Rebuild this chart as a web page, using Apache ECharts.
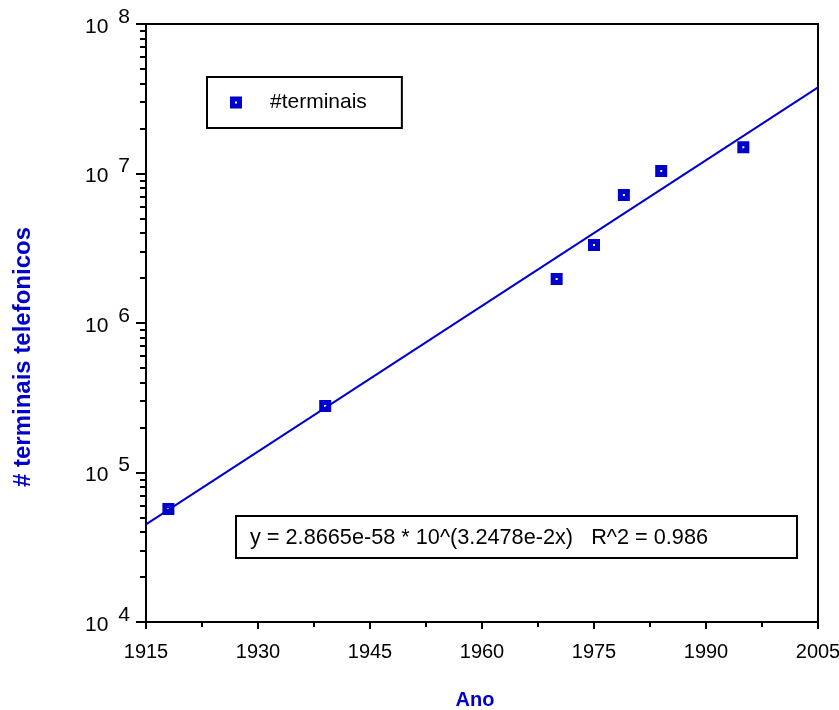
<!DOCTYPE html>
<html>
<head>
<meta charset="utf-8">
<script src="https://cdn.jsdelivr.net/npm/echarts@6/dist/echarts.min.js"></script>
<style>
  html, body { margin: 0; padding: 0; background: #fff; }
  #chart { width: 839px; height: 710px; }
</style>
</head>
<body>
<div id="chart"></div>
<script>
// dados
var anos = [1918, 1939, 1970, 1975, 1979, 1984, 1995];
var terminais = [57000, 279000, 1970000, 3330000, 7180000, 10400000, 15000000];

// reta de ajuste (extremos)
var anosAjuste = [1915, 2005];
var valoresAjuste = [44950, 37670000];

var minorY = [];
[1e4, 1e5, 1e6, 1e7].forEach(function (d) {
  for (var k = 2; k <= 9; k++) minorY.push(d * k);
});

var azul = '#0000cc';
var fonte = 'Liberation Sans, Arial, sans-serif';
var marcador = 'path://M0,0H12V12H0Z M5,5V7H7V5Z';

var chart = echarts.init(document.getElementById('chart'));
var option = {
  backgroundColor: '#fff',
  animation: false,
  textStyle: { fontFamily: fonte },
  grid: {
    left: 146, right: 21, top: 24, bottom: 88,
    outerBoundsMode: 'none',
    containLabel: false,
    show: true, borderColor: '#000', borderWidth: 2
  },
  legend: {
    data: ['#terminais'],
    left: 207, top: 77,
    padding: [15, 35, 15, 23],
    borderColor: '#000', borderWidth: 2,
    itemWidth: 12, itemHeight: 12,
    textStyle: { fontSize: 21, color: '#000', fontFamily: fonte, padding: [0, 0, 0, 23] }
  },
  xAxis: {
    type: 'value',
    min: 1915, max: 2005, interval: 15,
    name: 'Ano', nameLocation: 'middle', nameGap: 68,
    nameTextStyle: { color: azul, fontWeight: 'bold', fontSize: 20, fontFamily: fonte, padding: [0, 14, 0, 0] },
    axisLine: { lineStyle: { color: '#000', width: 2 } },
    axisTick: { inside: false, length: 7, lineStyle: { color: '#000', width: 2 } },
    minorTick: { show: true, splitNumber: 2, length: 5, lineStyle: { color: '#000', width: 2 } },
    splitLine: { show: false },
    axisLabel: {
      color: '#000', fontSize: 20, margin: 20, fontFamily: fonte,
      formatter: function (v) { return String(v); }
    }
  },
  yAxis: [{
    type: 'log', logBase: 10,
    min: 1e4, max: 1e8, interval: 1,
    name: '# terminais telefonicos', nameLocation: 'middle', nameGap: 111,
    nameTextStyle: { color: azul, fontWeight: 'bold', fontSize: 24, fontFamily: fonte, padding: [0, 68, 0, 0] },
    axisLine: { show: true, lineStyle: { color: '#000', width: 2 } },
    axisTick: { show: true, length: 10, lineStyle: { color: '#000', width: 2 } },
    splitLine: { show: false },
    axisLabel: {
      margin: 16,
      formatter: function (v) {
        return '{b|10}{e|' + Math.round(Math.log10(v)) + '}';
      },
      rich: {
        b: { fontSize: 21, color: '#000', fontFamily: fonte, padding: [6, 0, 0, 0] },
        e: { fontSize: 21, color: '#000', fontFamily: fonte, padding: [0, 0, 14, 10] }
      }
    }
  }, {
    type: 'log', logBase: 10,
    min: 1e4, max: 1e8,
    position: 'left',
    axisLine: { show: false },
    axisLabel: { show: false },
    splitLine: { show: false },
    axisTick: { show: true, length: 6, customValues: minorY, lineStyle: { color: '#000', width: 2 } }
  }],
  series: [{
    name: 'ajuste',
    type: 'line',
    data: anosAjuste.map(function (a, i) { return [a, valoresAjuste[i]]; }),
    showSymbol: false,
    lineStyle: { color: azul, width: 2 },
    z: 2
  }, {
    name: '#terminais',
    type: 'scatter',
    data: anos.map(function (a, i) { return [a, terminais[i]]; }),
    symbol: marcador,
    symbolSize: 12,
    itemStyle: { color: azul, opacity: 1 },
    z: 3
  }],
  graphic: [{
    type: 'rect',
    shape: { x: 236, y: 516, width: 561, height: 42 },
    style: { fill: '#fff', stroke: '#000', lineWidth: 2 },
    z: 10
  }, {
    type: 'text',
    x: 250, y: 538,
    style: {
      text: 'y = 2.8665e-58 * 10^(3.2478e-2x)   R^2 = 0.986',
      font: '21.7px ' + fonte,
      fill: '#000',
      verticalAlign: 'middle'
    },
    z: 11
  }]
};
chart.setOption(option);
window.addEventListener('resize', function () { chart.resize(); });
</script>
</body>
</html>
